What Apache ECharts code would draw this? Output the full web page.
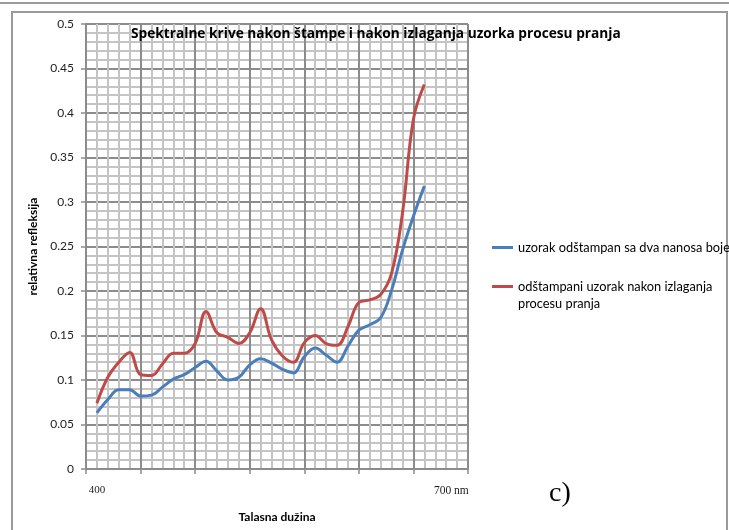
<!DOCTYPE html>
<html>
<head>
<meta charset="utf-8">
<title>Spektralne krive</title>
<script src="https://cdn.jsdelivr.net/npm/echarts@6/dist/echarts.min.js"></script>
<style>
  html, body { margin: 0; padding: 0; background: #fff; }
  #chart { width: 729px; height: 530px; }
</style>
</head>
<body>
<div id="chart"></div>
<script>
// talasne duzine (nm)
const wavelengths = [400, 410, 420, 430, 440, 450, 460, 470, 480, 490, 500,
  510, 520, 530, 540, 550, 560, 570, 580, 590, 600,
  610, 620, 630, 640, 650, 660, 670, 680, 690, 700]
// relativna refleksija - uzorak sa dva nanosa boje
const printedTwoCoats = [0.063, 0.078, 0.089, 0.089, 0.082, 0.083, 0.092, 0.101, 0.106, 0.114, 0.121,
  0.110, 0.100, 0.103, 0.117, 0.124, 0.119, 0.112, 0.108, 0.126, 0.136,
  0.128, 0.120, 0.138, 0.156, 0.162, 0.170, 0.201, 0.246, 0.284, 0.318]
// relativna refleksija - nakon pranja
const afterWashing = [0.074, 0.103, 0.120, 0.131, 0.106, 0.105, 0.118, 0.130, 0.130, 0.141, 0.177,
  0.153, 0.148, 0.141, 0.153, 0.180, 0.145, 0.127, 0.120, 0.142, 0.150,
  0.141, 0.139, 0.160, 0.187, 0.190, 0.196, 0.220, 0.288, 0.393, 0.432]
const xLabelValues = [400, 700]
const seriesNames = [
  'uzorak odštampan sa dva nanosa boje',
  'odštampani uzorak nakon izlaganja procesu pranja'
]

const font = 'Lato, "Noto Sans", sans-serif'
const serif = '"Liberation Serif", "DejaVu Serif", serif'

const chart = echarts.init(document.getElementById('chart'))

const toPairs = (vals) => vals.map((v, i) => [wavelengths[i], v])

const option = {
  animation: false,
  backgroundColor: '#fff',
  title: {
    text: 'Spektralne krive nakon štampe i nakon izlaganja uzorka procesu pranja',
    left: 126,
    top: 22,
    textStyle: { fontFamily: '"Open Sans", Lato, sans-serif', fontSize: 13.7, fontWeight: 'bold', color: '#000' }
  },
  legend: [
    {
      data: [seriesNames[0]],
      left: 492,
      top: 241,
      padding: 0,
      icon: 'rect',
      itemWidth: 21,
      itemHeight: 3,
      itemGap: 0,
      textStyle: { fontFamily: font, fontSize: 12.8, color: '#000' }
    },
    {
      data: [seriesNames[1]],
      left: 492,
      top: 261,
      padding: 0,
      icon: 'rect',
      itemWidth: 21,
      itemHeight: 3,
      // prazan prvi red da bi ikona stajala uz prvi red teksta
      formatter: (name) => '\n' + name.replace(' procesu', '\nprocesu'),
      textStyle: { fontFamily: font, fontSize: 12.8, color: '#000', lineHeight: 17 }
    }
  ],
  grid: { left: 86, right: 261, top: 24, bottom: 61 },
  xAxis: [
    {
      // graph paper grid
      type: 'value',
      min: 0,
      max: 35,
      interval: 5,
      axisLine: { show: true, lineStyle: { color: '#8c8c8c', width: 2 } },
      axisTick: { show: true, length: 5, lineStyle: { color: '#8c8c8c', width: 1.5 } },
      axisLabel: { show: false },
      splitLine: { show: true, lineStyle: { color: '#8c8c8c', width: 2 } },
      minorTick: { show: false, splitNumber: 5 },
      minorSplitLine: { show: true, lineStyle: { color: '#c4c4c4', width: 2 } }
    },
    {
      // wavelength axis for data
      type: 'value',
      min: 390,
      max: 740,
      position: 'bottom',
      axisLine: { show: false },
      axisTick: { show: false },
      splitLine: { show: false },
      axisLabel: {
        customValues: xLabelValues,
        margin: 16,
        fontFamily: serif,
        fontSize: 11,
        color: '#222',
        formatter: (v) => (v === 700 ? '{r|700 nm}' : '400'),
        rich: { r: { fontFamily: serif, fontSize: 11.5, color: '#222', padding: [0, 0, 0, 54] } }
      },
      name: 'Talasna dužina',
      nameLocation: 'middle',
      nameGap: 42,
      nameTextStyle: { fontFamily: font, fontSize: 12, fontWeight: 'bold', color: '#000' }
    }
  ],
  yAxis: {
    type: 'value',
    min: 0,
    max: 0.5,
    interval: 0.05,
    name: 'relativna refleksija',
    nameLocation: 'middle',
    nameGap: 43,
    nameTextStyle: { fontFamily: font, fontSize: 12, fontWeight: 'bold', color: '#000' },
    axisLine: { show: true, lineStyle: { color: '#8c8c8c', width: 2 } },
    axisTick: { show: true, length: 5, lineStyle: { color: '#8c8c8c', width: 1.5 } },
    axisLabel: {
      margin: 12,
      fontFamily: font,
      fontSize: 12,
      color: '#222',
      formatter: (v) => String(+v.toFixed(2))
    },
    splitLine: { show: true, lineStyle: { color: '#8c8c8c', width: 2 } },
    minorTick: { show: false, splitNumber: 5 },
    minorSplitLine: { show: true, lineStyle: { color: '#c4c4c4', width: 2 } }
  },
  series: [
    {
      name: seriesNames[0],
      type: 'line',
      xAxisIndex: 1,
      smooth: 0.4,
      showSymbol: false,
      data: toPairs(printedTwoCoats),
      itemStyle: { color: '#4a7ebb' },
      lineStyle: { color: '#4a7ebb', width: 3 }
    },
    {
      name: seriesNames[1],
      type: 'line',
      xAxisIndex: 1,
      smooth: 0.4,
      showSymbol: false,
      data: toPairs(afterWashing),
      itemStyle: { color: '#be4b48' },
      lineStyle: { color: '#be4b48', width: 3 }
    }
  ],
  graphic: [
    { type: 'line', shape: { x1: 0, y1: 3, x2: 729, y2: 3 }, style: { stroke: '#9a9a9a', lineWidth: 2 } },
    { type: 'rect', shape: { x: 12, y: 12, width: 715, height: 530 }, style: { fill: 'none', stroke: '#9a9a9a', lineWidth: 2 }, z: -1 },
    {
      type: 'text',
      left: 549,
      top: 480,
      style: { text: 'c)', fontFamily: serif, fontSize: 28, fill: '#000' }
    }
  ]
}

chart.setOption(option)
</script>
</body>
</html>
